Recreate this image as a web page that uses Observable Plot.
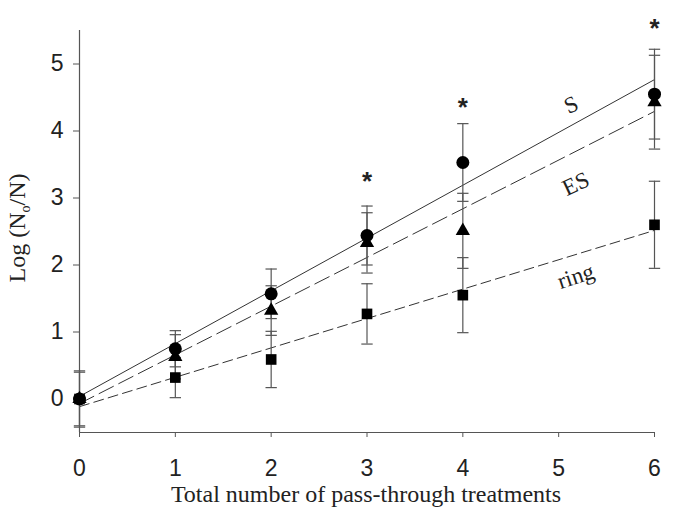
<!DOCTYPE html>
<html>
<head>
<meta charset="utf-8">
<script src="https://cdn.jsdelivr.net/npm/d3@7"></script>
<script src="https://cdn.jsdelivr.net/npm/@observablehq/plot@0.6"></script>
<style>
  html, body { margin: 0; padding: 0; background: #fff; }
  #chart svg { display: block; }
</style>
</head>
<body>
<div id="chart"></div>
<script>
// ---- data ----
const passes = [0, 1, 2, 3, 4, 6];
const sMean   = [0, 0.75, 1.57, 2.44, 3.53, 4.55];
const sErr    = [0.42, 0.27, 0.37, 0.44, 0.58, 0.67];
const esMean  = [0, 0.63, 1.32, 2.33, 2.51, 4.43];
const esErr   = [0.40, 0.33, 0.37, 0.45, 0.56, 0.70];
const ringMean = [0, 0.32, 0.59, 1.27, 1.55, 2.60];
const ringErr  = [0.05, 0.30, 0.42, 0.45, 0.56, 0.65];
const xTicks = [0, 1, 2, 3, 4, 5, 6];
const yTicks = [0, 1, 2, 3, 4, 5];
const starX = [3, 4, 6];
const starY = [3.36, 4.47, 5.64];
const lineNames = ["S", "ES", "ring"];
const labelX = [5.13, 5.18, 5.18];
const labelY = [4.39, 3.21, 1.83];

// ---- build table ----
function rows(mean, err, series) {
  return passes.map((x, i) => ({x, y: mean[i], lo: mean[i] - err[i], hi: mean[i] + err[i], series}));
}
const S = rows(sMean, sErr, "S");
const ES = rows(esMean, esErr, "ES");
const R = rows(ringMean, ringErr, "ring");
const all = [...R, ...ES, ...S];
const stars = starX.map((x, i) => ({x, y: starY[i]}));
const labels = lineNames.map((t, i) => ({t, x: labelX[i], y: labelY[i]}));

const capSymbol = {
  draw(context, size) {
    const w = Math.sqrt(size);
    context.moveTo(-w, 0);
    context.lineTo(w, 0);
  }
};

const ink = "#222";
const axisInk = "#555";
const serif = "'Liberation Serif', 'Times New Roman', serif";
const fmt = d => String(d);

const chart = Plot.plot({
  width: 685,
  height: 522,
  marginLeft: 79,
  marginRight: 31,
  marginTop: 30,
  marginBottom: 90,
  style: {fontFamily: "'Liberation Sans', Arial, sans-serif", fontSize: "23px", color: ink, background: "#fff"},
  x: {domain: [0, 6], label: null},
  y: {domain: [-0.5, 5.5], label: null},
  marks: [
    Plot.axisX({ticks: xTicks, tickFormat: fmt, tickSize: 5, tickPadding: 22, stroke: axisInk, fill: ink, fontSize: 23, label: null}),
    Plot.axisY({ticks: yTicks, tickFormat: fmt, tickSize: 6, tickPadding: 10, stroke: axisInk, fill: ink, fontSize: 23, label: null}),
    Plot.ruleY([-0.5], {stroke: axisInk, strokeWidth: 1.2}),
    Plot.ruleX([0], {stroke: axisInk, strokeWidth: 1.2}),
    // regression lines
    Plot.linearRegressionY(S, {x: "x", y: "y", ci: 0, stroke: "#333", strokeWidth: 1}),
    Plot.linearRegressionY(ES, {x: "x", y: "y", ci: 0, stroke: "#333", strokeWidth: 1, strokeDasharray: "16,6"}),
    Plot.linearRegressionY(R, {x: "x", y: "y", ci: 0, stroke: "#333", strokeWidth: 1, strokeDasharray: "10,5"}),
    // error bars
    Plot.ruleX(all, {x: "x", y1: "lo", y2: "hi", stroke: "#555", strokeWidth: 1.2}),
    Plot.dot(all, {x: "x", y: "hi", symbol: capSymbol, r: 3.2, stroke: "#555", strokeWidth: 1.2, fill: "none"}),
    Plot.dot(all, {x: "x", y: "lo", symbol: capSymbol, r: 3.2, stroke: "#555", strokeWidth: 1.2, fill: "none"}),
    // markers
    Plot.dot(R, {x: "x", y: "y", symbol: "square", r: 6, fill: "#000", stroke: "none"}),
    Plot.dot(ES, {x: "x", y: "y", symbol: "triangle", r: 5.3, fill: "#000", stroke: "none"}),
    Plot.dot(S, {x: "x", y: "y", symbol: "circle", r: 6.5, fill: "#000", stroke: "none"}),
    // significance stars
    Plot.text(stars, {x: "x", y: "y", text: () => "*", fontSize: 26, fontWeight: "bold", fill: ink, dy: 8, fontFamily: "'Liberation Sans', Arial, sans-serif"}),
    // line labels
    Plot.text(labels.slice(0, 1), {x: "x", y: "y", text: "t", rotate: -25, fontSize: 23, fontFamily: serif, fill: ink}),
    Plot.text(labels.slice(1, 2), {x: "x", y: "y", text: "t", rotate: -25, fontSize: 23, fontFamily: serif, fill: ink}),
    Plot.text(labels.slice(2, 3), {x: "x", y: "y", text: "t", rotate: -18, fontSize: 23, fontFamily: serif, fill: ink})
  ]
});

// axis titles (real text, with subscript)
const svg = d3.select(chart);
svg.append("text")
  .attr("x", 366).attr("y", 502)
  .attr("text-anchor", "middle")
  .attr("font-family", serif).attr("font-size", 24).attr("fill", ink)
  .text("Total number of pass-through treatments");
const yl = svg.append("text")
  .attr("transform", "translate(25,228) rotate(-90)")
  .attr("text-anchor", "middle")
  .attr("font-family", serif).attr("font-size", 24).attr("fill", ink);
yl.append("tspan").text("Log (N");
yl.append("tspan").attr("font-size", 14).attr("dy", 5).text("o");
yl.append("tspan").attr("dy", -5).text("/N)");

document.getElementById("chart").appendChild(chart);
</script>
</body>
</html>
